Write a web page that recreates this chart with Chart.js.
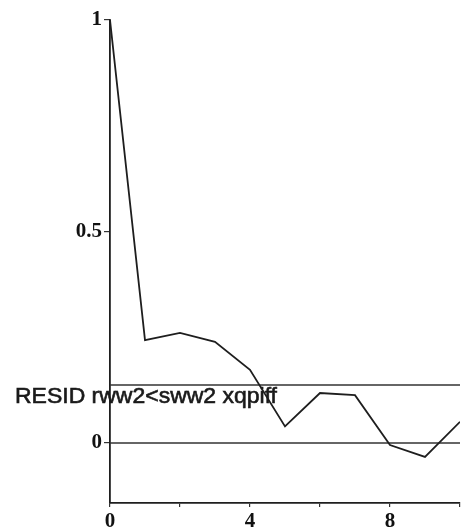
<!DOCTYPE html>
<html>
<head>
<meta charset="utf-8">
<script src="https://cdn.jsdelivr.net/npm/chart.js@4"></script>
<style>
  html, body { margin: 0; padding: 0; background: #fff; }
  #wrap { width: 462px; height: 532px; }
</style>
</head>
<body>
<div id="wrap"><canvas id="chart" width="462" height="532"></canvas></div>
<script>
// autocorrelation of residuals
const lags = [0, 1, 2, 3, 4, 5, 6, 7, 8, 9, 10];
const acf = [1.0, 0.243, 0.26, 0.239, 0.173, 0.039, 0.118, 0.113, -0.005, -0.033, 0.05];
const bandLevel = 0.137;
const zeroLevel = 0;
const xTicks = [0, 2, 4, 6, 8, 10];
const xLabelled = [0, 4, 8];
const yTicks = [0, 0.5, 1];
const caption = "RESID rww2<sww2 xqpiff";

const ink = "#1e1e1e";
const tickFont = { family: "'Liberation Serif', 'DejaVu Serif', serif", size: 21, weight: "bold" };

function hline(level) {
  return [{ x: lags[0], y: level }, { x: lags[lags.length - 1], y: level }];
}

// caption sits over the plot, left of the axis
const captionPlugin = {
  id: "caption",
  afterDraw(chart) {
    const ctx = chart.ctx;
    ctx.save();
    ctx.fillStyle = "#1a1a1a";
    ctx.strokeStyle = "#1a1a1a";
    ctx.lineWidth = 0.6;
    ctx.font = "22px 'Liberation Sans', Arial, sans-serif";
    ctx.textBaseline = "alphabetic";
    const w = ctx.measureText(caption).width;
    ctx.translate(15, 403);
    ctx.scale(262 / w, 1);
    ctx.fillText(caption, 0, 0);
    ctx.strokeText(caption, 0, 0);
    ctx.restore();
  }
};

new Chart(document.getElementById("chart"), {
  type: "line",
  data: {
    datasets: [
      {
        label: "acf",
        data: lags.map((l, i) => ({ x: l, y: acf[i] })),
        borderColor: ink,
        borderWidth: 1.8,
        pointRadius: 0,
        tension: 0
      },
      {
        label: "band",
        data: hline(bandLevel),
        borderColor: "#333",
        borderWidth: 1.5,
        pointRadius: 0
      },
      {
        label: "zero",
        data: hline(zeroLevel),
        borderColor: "#333",
        borderWidth: 1.5,
        pointRadius: 0
      }
    ]
  },
  options: {
    responsive: false,
    animation: false,
    layout: { padding: { top: 20, right: 2, left: 0, bottom: 0 } },
    plugins: {
      legend: { display: false },
      tooltip: { enabled: false }
    },
    scales: {
      x: {
        type: "linear",
        min: 0,
        max: 10,
        afterBuildTicks: s => { s.ticks = xTicks.map(v => ({ value: v })); },
        afterFit: s => { s.height = 29; },
        ticks: {
          autoSkip: false,
          maxRotation: 0,
          padding: 2,
          color: "#111",
          font: tickFont,
          callback: v => xLabelled.includes(v) ? String(v) : ""
        },
        grid: { drawOnChartArea: false, drawTicks: true, tickLength: 4, color: "#333", lineWidth: 1.2 },
        border: { display: true, color: ink, width: 1.8 }
      },
      y: {
        type: "linear",
        min: -0.142,
        max: 1,
        afterBuildTicks: s => { s.ticks = yTicks.map(v => ({ value: v })); },
        afterFit: s => { s.width = 110; },
        ticks: {
          padding: 2,
          color: "#111",
          font: tickFont,
          callback: v => String(v)
        },
        grid: { drawOnChartArea: false, drawTicks: true, tickLength: 6, color: "#333", lineWidth: 1.2 },
        border: { display: true, color: ink, width: 1.8 }
      }
    }
  },
  plugins: [captionPlugin]
});
</script>
</body>
</html>
